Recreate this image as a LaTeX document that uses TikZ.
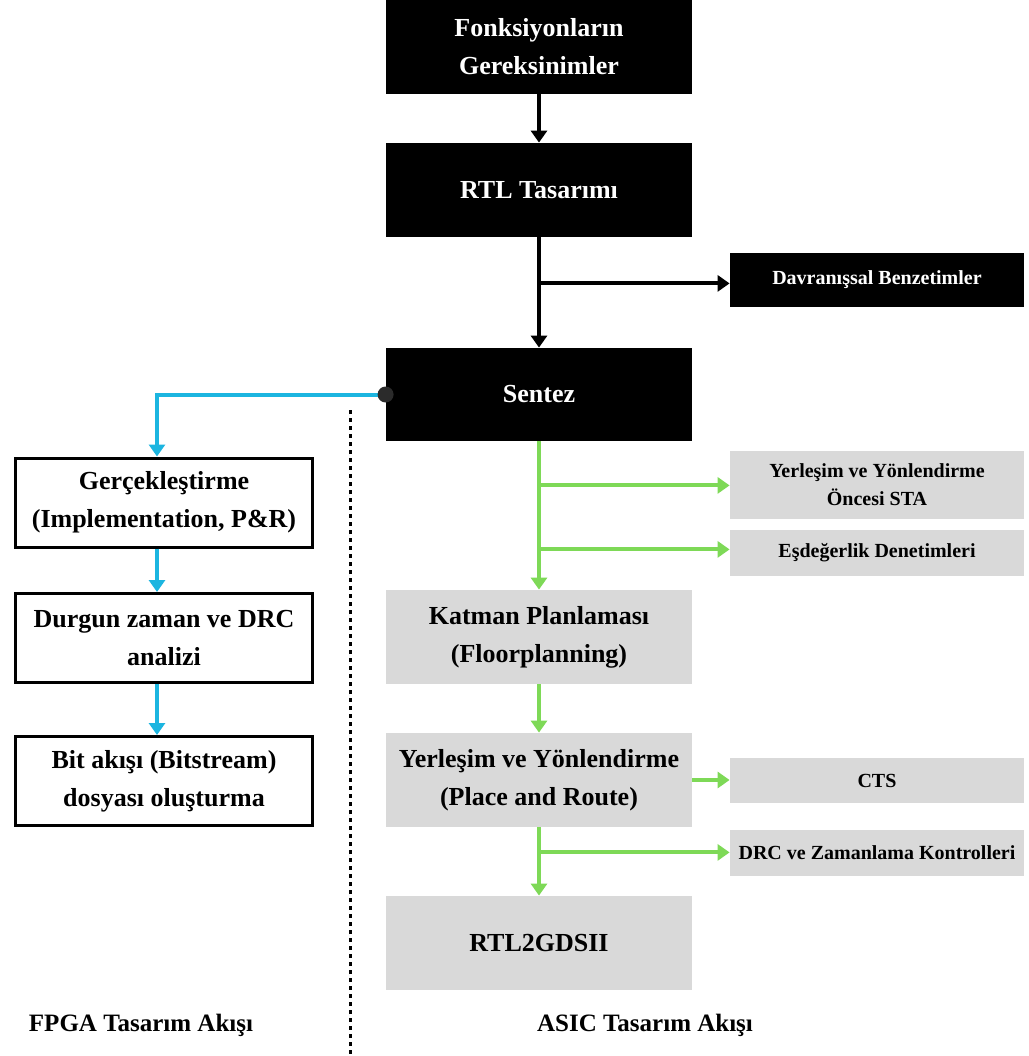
\documentclass[tikz,border=0pt]{standalone}
\usepackage{fontspec}
\setmainfont{Liberation Serif}
\usetikzlibrary{arrows.meta,calc}
\definecolor{cyanline}{HTML}{1CB5E0}
\definecolor{greenline}{HTML}{7ED957}
\definecolor{graybox}{HTML}{D9D9D9}
\definecolor{dotgray}{HTML}{2B2B2B}
\tikzset{
  bigbox/.style={minimum width=153pt,minimum height=47pt,inner sep=0pt,align=center,
    font=\fontsize{13}{19}\selectfont\bfseries},
  blackbox/.style={bigbox,fill=black,text=white},
  graybig/.style={bigbox,fill=graybox,text=black},
  fpgabox/.style={bigbox,minimum width=148.5pt,minimum height=44.5pt,draw=black,line width=1.5pt,fill=white},
  smallbox/.style={minimum width=147pt,inner sep=0pt,align=center,
    font=\fontsize{10}{14}\selectfont\bfseries},
  smallblack/.style={smallbox,fill=black,text=white},
  smallgray/.style={smallbox,fill=graybox,text=black},
  blk/.style={draw=black,line width=2pt,-{Triangle[width=8pt,length=6pt]}},
  cyn/.style={draw=cyanline,line width=2pt,-{Triangle[width=8pt,length=6pt]}},
  grn/.style={draw=greenline,line width=2pt,-{Triangle[width=8pt,length=6pt]}},
  lbl/.style={font=\fontsize{12.5}{15}\selectfont\bfseries}
}
\begin{document}
\begin{tikzpicture}[x=0.5pt,y=-0.5pt]
\useasboundingbox (0,0) rectangle (1029,1056);
% ASIC column
\node[blackbox] (f1) at (539,47) {Fonksiyonların\\Gereksinimler};
\node[blackbox] (rtl) at (539,190) {RTL Tasarımı};
\node[smallblack,minimum height=27pt] (dav) at (877,280) {Davranışsal Benzetimler};
\node[blackbox,minimum height=46.5pt] (sen) at (539,394.5) {Sentez};
\node[smallgray,minimum height=34pt] (sta) at (877,485) {Yerleşim ve Yönlendirme\\Öncesi STA};
\node[smallgray,minimum height=23pt] (esd) at (877,553) {Eşdeğerlik Denetimleri};
\node[graybig] (kat) at (539,637) {Katman Planlaması\\(Floorplanning)};
\node[graybig] (pr) at (539,780) {Yerleşim ve Yönlendirme\\(Place and Route)};
\node[smallgray,minimum height=22.5pt] (cts) at (877,780.5) {CTS};
\node[smallgray,minimum height=23pt] (drc) at (877,853) {DRC ve Zamanlama Kontrolleri};
\node[graybig] (gds) at (539,943) {RTL2GDSII};
% FPGA column
\node[fpgabox] (ger) at (164,502.5) {Gerçekleştirme\\(Implementation, P\&R)};
\node[fpgabox] (dur) at (164,638) {Durgun zaman ve DRC\\analizi};
\node[fpgabox] (bit) at (164,781) {Bit akışı (Bitstream)\\dosyası oluşturma};
% labels
\node[lbl] (fpga) at (141,1025) {FPGA Tasarım Akışı};
\node[lbl] (asic) at (645,1025) {ASIC Tasarım Akışı};
% divider
\coordinate (dtop) at (350,410);
\coordinate (dbot) at (350,1056);
\draw[line width=1.5pt,dash pattern=on 2pt off 2pt] (dtop) -- (dbot);
% black connectors
\draw[blk] (f1.south) -- (rtl.north);
\draw[blk] (rtl.south) -- (sen.north);
\coordinate (b1) at ($(rtl.south)+(0,46)$);
\draw[blk] (b1) -- (b1 -| dav.west);
% cyan connectors
\coordinate (gtop) at ($(ger.north)+(-7,0)$);
\draw[cyn] (sen.west) -| (gtop);
\draw[cyn] ($(ger.south)+(-7,0)$) -- ($(dur.north)+(-7,0)$);
\draw[cyn] ($(dur.south)+(-7,0)$) -- ($(bit.north)+(-7,0)$);
\fill[dotgray] (sen.west) circle (4pt);
% green connectors
\draw[grn] (sen.south) -- (kat.north);
\coordinate (g1) at ($(sen.south)+(0,44)$);
\draw[grn] (g1) -- (g1 -| sta.west);
\coordinate (g2) at ($(sen.south)+(0,108)$);
\draw[grn] (g2) -- (g2 -| esd.west);
\draw[grn] (kat.south) -- (pr.north);
\draw[grn] (pr.east) -- (pr.east -| cts.west);
\draw[grn] (pr.south) -- (gds.north);
\coordinate (g3) at ($(pr.south)+(0,25)$);
\draw[grn] (g3) -- (g3 -| drc.west);
\end{tikzpicture}
\end{document}
